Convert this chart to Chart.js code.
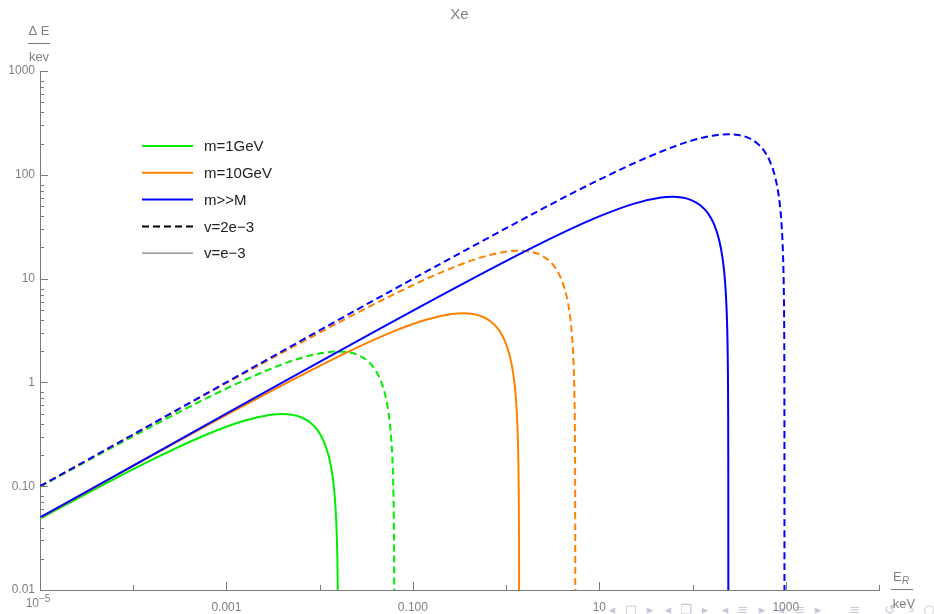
<!DOCTYPE html>
<html>
<head>
<meta charset="utf-8">
<title>Xe</title>
<script src="https://cdn.jsdelivr.net/npm/chart.js@4.4.1/dist/chart.umd.min.js"></script>
<style>
  html, body { margin: 0; padding: 0; background: #fff; }
</style>
</head>
<body>
<canvas id="myChart" width="934" height="614"></canvas>
<script>
// Recoil energy E_R (keV) and energy loss ΔE (keV)
const greenSolidE  = [1e-5, 1.58e-5, 1.58e-4, 6.32e-4, 0.00158, 0.003, 0.00395, 0.00506, 0.00632, 0.0079, 0.00948, 0.01106, 0.01264, 0.01375, 0.01454, 0.01517, 0.01548, 0.01564, 0.015737, 0.015784, 0.015797, 0.0158];
const greenSolidDE = [0.0487, 0.0608, 0.179, 0.318, 0.429, 0.488, 0.497, 0.488, 0.462, 0.411, 0.347, 0.271, 0.188, 0.125, 0.0778, 0.0393, 0.0198, 0.0099, 0.00397, 0.00099, 0.0002, 0.00001];

const greenDashE  = [1e-5, 6.32e-5, 6.32e-4, 0.00253, 0.00632, 0.0120, 0.0158, 0.0202, 0.0253, 0.0316, 0.0379, 0.0442, 0.0506, 0.0550, 0.0581, 0.0607, 0.06194, 0.06257, 0.062947, 0.063137, 0.063187, 0.0632];
const greenDashDE = [0.0987, 0.243, 0.715, 1.27, 1.72, 1.95, 1.99, 1.95, 1.85, 1.65, 1.39, 1.09, 0.750, 0.498, 0.311, 0.157, 0.0790, 0.0396, 0.0159, 0.00397, 0.00079, 0.00001];

const orangeSolidE  = [1e-5, 0.00138, 0.0138, 0.0552, 0.138, 0.262, 0.345, 0.442, 0.552, 0.690, 0.828, 0.966, 1.104, 1.201, 1.270, 1.325, 1.352, 1.366, 1.3745, 1.3786, 1.3797, 1.38];
const orangeSolidDE = [0.0498, 0.568, 1.67, 2.97, 4.01, 4.56, 4.64, 4.56, 4.31, 3.84, 3.24, 2.54, 1.75, 1.16, 0.727, 0.367, 0.185, 0.0926, 0.0371, 0.00928, 0.00186, 0.00001];

const orangeDashE  = [1e-5, 0.00552, 0.0552, 0.221, 0.552, 1.049, 1.38, 1.766, 2.208, 2.76, 3.312, 3.864, 4.416, 4.802, 5.078, 5.299, 5.410, 5.465, 5.4979, 5.5145, 5.5189, 5.52];
const orangeDashDE = [0.0998, 2.27, 6.68, 11.9, 16.1, 18.3, 18.6, 18.2, 17.3, 15.4, 13.0, 10.1, 7.01, 4.66, 2.91, 1.47, 0.739, 0.370, 0.148, 0.0371, 0.00742, 0.00001];

const blueSolidE  = [1e-5, 0.242, 2.42, 9.68, 24.2, 46.0, 60.5, 77.4, 96.8, 121, 145.2, 169.4, 193.6, 210.5, 222.6, 232.3, 237.2, 239.6, 241.03, 241.76, 241.95, 242];
const blueSolidDE = [0.0500, 7.53, 22.1, 39.3, 53.1, 60.4, 61.4, 60.4, 57.1, 50.9, 42.9, 33.6, 23.2, 15.4, 9.63, 4.87, 2.45, 1.23, 0.491, 0.123, 0.0246, 0.00001];

const blueDashE  = [1e-5, 0.968, 9.68, 38.7, 96.8, 183.9, 242, 309.8, 387.2, 484, 580.8, 677.6, 774.4, 842.2, 890.6, 929.3, 948.6, 958.3, 964.13, 967.03, 967.81, 968];
const blueDashDE = [0.0999, 30.1, 88.5, 157, 213, 242, 246, 242, 229, 204, 172, 134, 92.8, 61.7, 38.5, 19.5, 9.78, 4.90, 1.96, 0.491, 0.0983, 0.00001];

// ticks (first x label, 10^-5, is drawn with a real superscript in the plugin)
const xTickValues = [1e-5, 1e-4, 1e-3, 1e-2, 1e-1, 1, 10, 100, 1000, 1e4];
const xTickLabels = ['', '', '0.001', '', '0.100', '', '10', '', '1000', ''];
const xMajor = [1e-5, 1e-3, 1e-1, 10, 1000];
const yTickValues = [0.01, 0.1, 1, 10, 100, 1000];
const yTickLabels = ['0.01', '0.10', '1', '10', '100', '1000'];

// legend
const legendLabels = ['m=1GeV', 'm=10GeV', 'm>>M', 'v=2e\u22123', 'v=e\u22123'];

const GREEN = '#00ee00';
const ORANGE = '#ff8000';
const BLUE = '#0000ff';
const AXIS = '#7a7a7a';
const TEXT = '#808080';
const FONT = '"Liberation Sans", Arial, sans-serif';
const DASH = [7, 4];

function pts(xs, ys) {
    return xs.map((v, i) => ({ x: v, y: ys[i] }));
}

function line(data, color, dashed) {
    return {
        data: data,
        borderColor: color,
        borderWidth: 2,
        borderDash: dashed ? DASH : [],
        pointRadius: 0,
        fill: false,
        cubicInterpolationMode: 'monotone'
    };
}

// inward ticks, title, axis labels, legend
const decor = {
    id: 'decor',
    afterDraw(chart) {
        const ctx = chart.ctx;
        const a = chart.chartArea;
        const xs = chart.scales.x, ys = chart.scales.y;
        ctx.save();
        ctx.strokeStyle = AXIS;
        ctx.lineWidth = 1;

        // y ticks: decades long, 2..8 short
        yTickValues.forEach(v => {
            const py = Math.round(ys.getPixelForValue(v)) + 0.5;
            ctx.beginPath(); ctx.moveTo(a.left, py); ctx.lineTo(a.left + 8, py); ctx.stroke();
            if (v < 1000) {
                for (let k = 2; k <= 8; k++) {
                    const q = Math.round(ys.getPixelForValue(v * k)) + 0.5;
                    ctx.beginPath(); ctx.moveTo(a.left, q); ctx.lineTo(a.left + 4, q); ctx.stroke();
                }
            }
        });
        // x ticks
        xTickValues.forEach(v => {
            const px = Math.round(xs.getPixelForValue(v)) + 0.5;
            const len = xMajor.includes(v) ? 8 : 5;
            ctx.beginPath(); ctx.moveTo(px, a.bottom); ctx.lineTo(px, a.bottom - len); ctx.stroke();
        });

        ctx.fillStyle = TEXT;
        ctx.textBaseline = 'middle';

        // 10^-5 label
        const x0 = xs.getPixelForValue(1e-5);
        ctx.textAlign = 'right';
        ctx.font = '12px ' + FONT;
        ctx.fillText('10', x0 - 1, 604);
        ctx.textAlign = 'left';
        ctx.font = '10px ' + FONT;
        ctx.fillText('\u22125', x0 - 1, 599);

        ctx.textAlign = 'center';
        // title
        ctx.font = '15px ' + FONT;
        ctx.fillText('Xe', (a.left + a.right) / 2, 15);

        // y axis label (fraction)
        ctx.font = '13px ' + FONT;
        ctx.fillText('\u0394 E', 39, 31);
        ctx.beginPath(); ctx.moveTo(28, 43.5); ctx.lineTo(50, 43.5); ctx.stroke();
        ctx.fillText('kev', 39, 57);

        // x axis label (fraction)
        ctx.textAlign = 'left';
        ctx.fillText('E', 893, 577);
        ctx.font = 'italic 10px ' + FONT;
        ctx.fillText('R', 902, 581);
        ctx.font = '13px ' + FONT;
        ctx.beginPath(); ctx.moveTo(891, 589.5); ctx.lineTo(913, 589.5); ctx.stroke();
        ctx.textAlign = 'center';
        ctx.fillText('keV', 904, 604);

        // legend
        const styles = [[GREEN, false, 2], [ORANGE, false, 2], [BLUE, false, 2], ['#000', true, 2], ['#808080', false, 1.3]];
        ctx.textAlign = 'left';
        ctx.font = '15px ' + FONT;
        legendLabels.forEach((t, i) => {
            const yy = 146 + i * 26.8;
            ctx.strokeStyle = styles[i][0];
            ctx.lineWidth = styles[i][2];
            ctx.setLineDash(styles[i][1] ? DASH : []);
            ctx.beginPath(); ctx.moveTo(142, yy); ctx.lineTo(193, yy); ctx.stroke();
            ctx.setLineDash([]);
            ctx.fillStyle = '#222';
            ctx.fillText(t, 204, yy + 1);
        });

        // faint beamer navigation symbols
        const nav = [['\u25C2', 612], ['\u25A1', 631], ['\u25B8', 650], ['\u25C2', 668], ['\u2750', 686], ['\u25B8', 705],
                     ['\u25C2', 725], ['\u2261', 743], ['\u25B8', 762], ['\u25C2', 781], ['\u2261', 800], ['\u25B8', 818],
                     ['\u2261', 855], ['\u21BA', 890], ['\u2315', 911], ['\u25CB', 929]];
        ctx.fillStyle = 'rgba(150,150,190,0.55)';
        ctx.font = '13px "DejaVu Sans", sans-serif';
        ctx.textAlign = 'center';
        nav.forEach(n => ctx.fillText(n[0], n[1], 611));
        ctx.restore();
    }
};

function initChart() {
    const data = {
        datasets: [
            line(pts(blueDashE, blueDashDE), BLUE, true),
            line(pts(blueSolidE, blueSolidDE), BLUE, false),
            line(pts(orangeDashE, orangeDashDE), ORANGE, true),
            line(pts(orangeSolidE, orangeSolidDE), ORANGE, false),
            line(pts(greenDashE, greenDashDE), GREEN, true),
            line(pts(greenSolidE, greenSolidDE), GREEN, false)
        ]
    };
    const config = {
        type: 'line',
        data: data,
        plugins: [decor],
        options: {
            responsive: false,
            animation: false,
            layout: { padding: { top: 71, right: 55, left: 0, bottom: 0 } },
            plugins: { legend: { display: false }, tooltip: { enabled: false }, title: { display: false } },
            scales: {
                x: {
                    type: 'logarithmic',
                    min: 1e-5, max: 1e4,
                    afterFit: s => { s.height = 24; },
                    afterBuildTicks: s => { s.ticks = xTickValues.map(v => ({ value: v })); },
                    grid: { display: false, drawTicks: false },
                    border: { display: true, color: AXIS, width: 1 },
                    ticks: {
                        autoSkip: false, maxRotation: 0, padding: 10, color: TEXT,
                        font: { family: FONT, size: 12 },
                        callback: (v, i) => xTickLabels[i]
                    }
                },
                y: {
                    type: 'logarithmic',
                    min: 0.01, max: 1000,
                    afterFit: s => { s.width = 40; },
                    afterBuildTicks: s => { s.ticks = yTickValues.map(v => ({ value: v })); },
                    grid: { display: false, drawTicks: false },
                    border: { display: true, color: AXIS, width: 1 },
                    ticks: {
                        autoSkip: false, padding: 5, color: TEXT,
                        font: { family: FONT, size: 12 },
                        callback: (v, i) => yTickLabels[i]
                    }
                }
            }
        }
    };
    new Chart(document.getElementById('myChart'), config);
}

document.addEventListener('DOMContentLoaded', initChart);
</script>
</body>
</html>
